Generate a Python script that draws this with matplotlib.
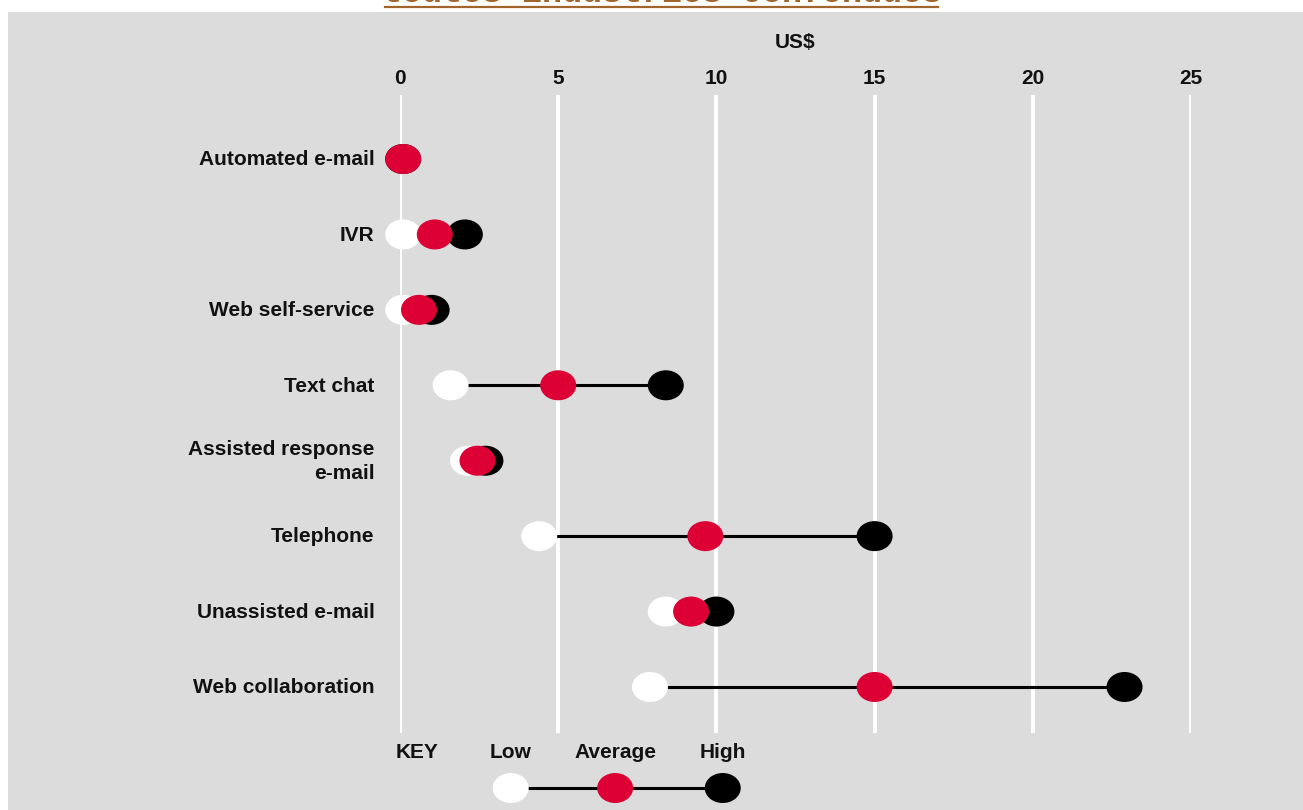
import matplotlib.pyplot as plt
from matplotlib.patches import Ellipse, Rectangle
from matplotlib.lines import Line2D

# Cost per contact by channel (US$), all industries combined
channels = ['Automated e-mail', 'IVR', 'Web self-service', 'Text chat',
            'Assisted response\ne-mail', 'Telephone', 'Unassisted e-mail',
            'Web collaboration']
low = [0.1, 0.1, 0.1, 1.6, 2.15, 4.4, 8.4, 7.9]
average = [0.1, 1.1, 0.6, 5.0, 2.45, 9.65, 9.2, 15.0]
high = [0.1, 2.05, 1.0, 8.4, 2.7, 15.0, 10.0, 22.9]
ticks = [0, 5, 10, 15, 20, 25]
key_labels = ['Low', 'Average', 'High']
key_values = [3.5, 6.8, 10.2]

RED = '#DC0035'
GREY = '#DCDCDC'
BROWN = '#A0652D'
INK = '#111111'
FS = 15
W, H = 1303, 810

plt.rcParams['font.family'] = ['Liberation Sans', 'DejaVu Sans']

fig = plt.figure(figsize=(W / 100, H / 100), dpi=100)
fig.patch.set_facecolor('white')

# grey panel behind everything
fig.patches.append(Rectangle((8 / W, 0), 1, 1 - 12 / H, transform=fig.transFigure,
                             facecolor=GREY, edgecolor='none', zorder=-1))

# heading, mostly cut off at the top edge
fig.text(662 / W, 1 - 2.5 / H, 'toutes industries confondues', ha='center', va='baseline',
         fontsize=24, family='Liberation Mono', fontweight='bold', color=BROWN)
fig.lines.append(Line2D([385 / W, 938 / W], [1 - 7 / H, 1 - 7 / H],
                        transform=fig.transFigure, color=BROWN, lw=1.6))

# axes: x=0 at px 400, x=25 at px 1191; gridlines from y=95 to y=733
ax = fig.add_axes([400 / W, 1 - 733 / H, (1191 - 400) / W, (733 - 95) / H])
ax.set_facecolor('none')
row_h = 75.4
top_pad = (159 - 95) / row_h
bot_pad = (733 - 687) / row_h
ax.set_xlim(0, 25)
ax.set_ylim(len(channels) - 1 + bot_pad, -top_pad)
for s in ax.spines.values():
    s.set_visible(False)
ax.set_xticks([])
ax.set_yticks([])

for t in ticks:
    ax.axvline(t, color='white', lw=2.8, zorder=1)
    ax.text(t, -top_pad - 0.09, str(t), ha='center', va='bottom',
            fontsize=FS, fontweight='bold', color=INK, clip_on=False)
ax.text(12.5, -top_pad - 0.57, 'US$', ha='center', va='bottom', fontsize=FS,
        fontweight='bold', color=INK, clip_on=False)

ew = 36 / 31.64       # marker width in data units
eh = 30 / row_h       # marker height in rows


def dot(x, y, color, z):
    ax.add_patch(Ellipse((x, y), ew, eh, facecolor=color, edgecolor='none',
                         zorder=z, clip_on=False))


for i, name in enumerate(channels):
    ax.plot([low[i], high[i]], [i, i], color='black', lw=2.2, zorder=2,
            solid_capstyle='butt')
    dot(low[i], i, 'white', 3)
    dot(high[i], i, 'black', 4)
    dot(average[i], i, RED, 5)
    ax.text(-0.8, i + 0.01, name, ha='right', va='center', fontsize=FS,
            fontweight='bold', color=INK, linespacing=1.3)

# key below the chart
ky_text = 7 + (752 - 687) / row_h
ky_dot = 7 + (788 - 687) / row_h
ax.text(0.55, ky_text, 'KEY', ha='center', va='center', fontsize=FS,
        fontweight='bold', color=INK, clip_on=False)
ax.plot([key_values[0], key_values[2]], [ky_dot, ky_dot], color='black', lw=2.2,
        zorder=2, clip_on=False)
for lab, v, c in zip(key_labels, key_values, ['white', RED, 'black']):
    ax.text(v, ky_text, lab, ha='center', va='center', fontsize=FS,
            fontweight='bold', color=INK, clip_on=False)
    dot(v, ky_dot, c, 4)

fig.savefig('out.png', dpi=100, facecolor=fig.get_facecolor())
